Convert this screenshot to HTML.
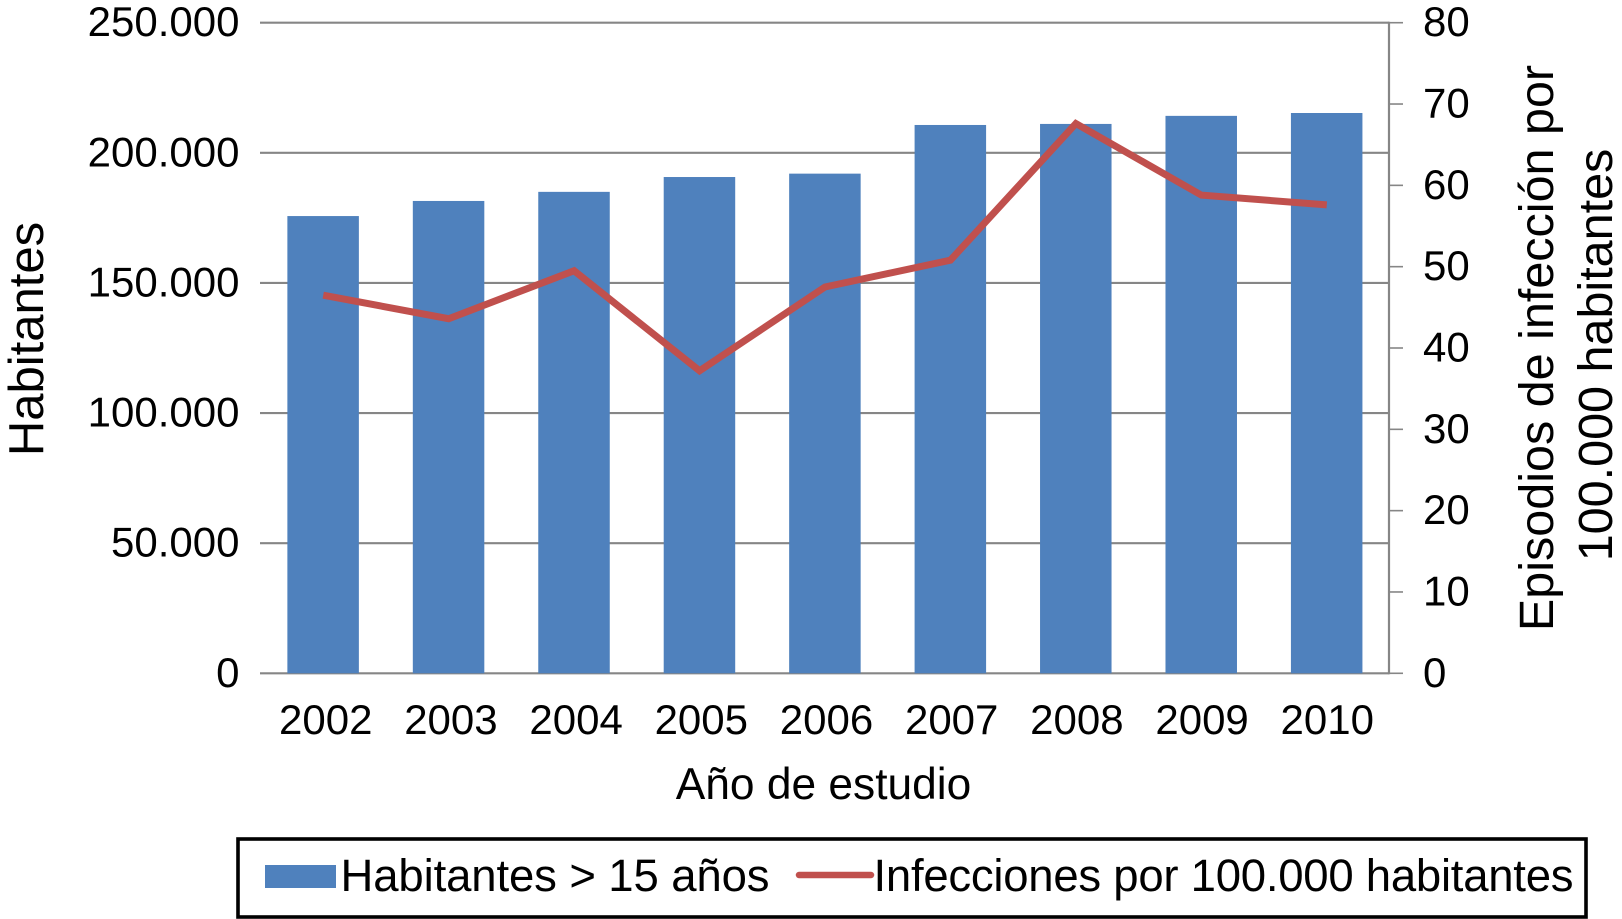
<!DOCTYPE html>
<html lang="es">
<head>
<meta charset="utf-8">
<title>Habitantes e infecciones por 100.000 habitantes</title>
<style>
html,body{margin:0;padding:0;background:#fff;width:1622px;height:919px;overflow:hidden}
svg{display:block;font-family:"Liberation Sans",Arial,sans-serif;fill:#000}
</style>
</head>
<body>
<svg id="chart" xmlns="http://www.w3.org/2000/svg" width="1622" height="919" viewBox="0 0 1622 919">
  <rect x="0" y="0" width="1622" height="919" fill="#ffffff"/>
  <g id="grid"></g>
  <g id="bars"></g>
  <g id="axes"></g>
  <g id="lineLayer"></g>
  <g id="labels"></g>

  <text transform="translate(43,339) rotate(-90)" text-anchor="middle" font-size="49">Habitantes</text>
  <text transform="translate(1553,348) rotate(-90)" text-anchor="middle" font-size="48.5">Episodios de infección por</text>
  <text transform="translate(1612,355) rotate(-90)" text-anchor="middle" font-size="48.5">100.000 habitantes</text>
  <text x="823.5" y="799" text-anchor="middle" font-size="44.3">Año de estudio</text>

  <g>
    <rect x="238" y="839" width="1348" height="78" fill="#ffffff" stroke="#000000" stroke-width="3.6"/>
    <rect x="265" y="865" width="71" height="23" fill="#4f81bd"/>
    <text x="340.5" y="891" font-size="45.5" textLength="429" lengthAdjust="spacing">Habitantes &gt; 15 años</text>
    <line x1="799" y1="875" x2="871" y2="875" stroke="#c0504d" stroke-width="6.5" stroke-linecap="round"/>
    <text x="873.5" y="891" font-size="45.5" textLength="700" lengthAdjust="spacing">Infecciones por 100.000 habitantes</text>
  </g>
</svg>
<script>
var categories = ['2002','2003','2004','2005','2006','2007','2008','2009','2010'];
var populationValues = [175700,181500,185000,190700,192000,210700,211100,214200,215300];
var infectionValues = [46.5,43.6,49.5,37.2,47.5,50.8,67.6,58.8,57.6];
var leftTickValues = [0,50000,100000,150000,200000,250000];
var leftTickLabels = ['0','50.000','100.000','150.000','200.000','250.000'];
var rightTickValues = [0,10,20,30,40,50,60,70,80];
var rightTickLabels = ['0','10','20','30','40','50','60','70','80'];

var NS = 'http://www.w3.org/2000/svg';
var plotLeft = 260, plotRight = 1389, plotTop = 22.7, plotBottom = 673.3;
var leftMax = 250000, rightMax = 80;
var band = (plotRight - plotLeft) / categories.length;
var barWidth = 71.5;

function xPos(i){ return plotLeft + (i + 0.5) * band; }
function yLeft(v){ return plotBottom - (v / leftMax) * (plotBottom - plotTop); }
function yRight(v){ return plotBottom - (v / rightMax) * (plotBottom - plotTop); }
function make(tag, attrs, parent){
  var el = document.createElementNS(NS, tag);
  for (var k in attrs) el.setAttribute(k, attrs[k]);
  parent.appendChild(el);
  return el;
}

var gridLayer = document.getElementById('grid');
var barLayer = document.getElementById('bars');
var axisLayer = document.getElementById('axes');
var lineLayer = document.getElementById('lineLayer');
var labelLayer = document.getElementById('labels');

leftTickValues.forEach(function(v, i){
  var y = yLeft(v);
  var g = make('line', {x1: plotLeft, y1: y, x2: plotRight, y2: y, stroke: '#868686', 'stroke-width': 2.1}, gridLayer);
  
  
  var t = make('text', {x: 239.5, y: y + 13.5, 'text-anchor': 'end', 'font-size': 42}, labelLayer);
  t.textContent = leftTickLabels[i];
  
  
});

categories.forEach(function(c, i){
  var top = yLeft(populationValues[i]);
  var b = make('rect', {x: xPos(i) - barWidth / 2 + 0.4, y: top, width: barWidth, height: plotBottom - top, fill: '#4f81bd'}, barLayer);
  
  
  var t = make('text', {x: xPos(i) + 3 - i * 0.25, y: 734, 'text-anchor': 'middle', 'font-size': 42}, labelLayer);
  t.textContent = c;
  
  
});

var axisLine = make('line', {x1: plotRight, y1: plotTop - 1, x2: plotRight, y2: plotBottom + 1, stroke: '#868686', 'stroke-width': 2.2}, axisLayer);



rightTickValues.forEach(function(v, i){
  var y = yRight(v);
  var m = make('line', {x1: plotRight, y1: y, x2: plotRight + 14, y2: y, stroke: '#868686', 'stroke-width': 1.6}, axisLayer);
  
  
  var t = make('text', {x: 1423, y: y + 13.5, 'font-size': 42}, labelLayer);
  t.textContent = rightTickLabels[i];
  
  
});

var pts = infectionValues.map(function(v, i){ return (xPos(i) + 0.5) + ',' + yRight(v); }).join(' ');
var series = make('polyline', {points: pts, fill: 'none', stroke: '#c0504d', 'stroke-width': 7, 'stroke-linejoin': 'miter', 'stroke-linecap': 'butt'}, lineLayer);


</script>
</body>
</html>
